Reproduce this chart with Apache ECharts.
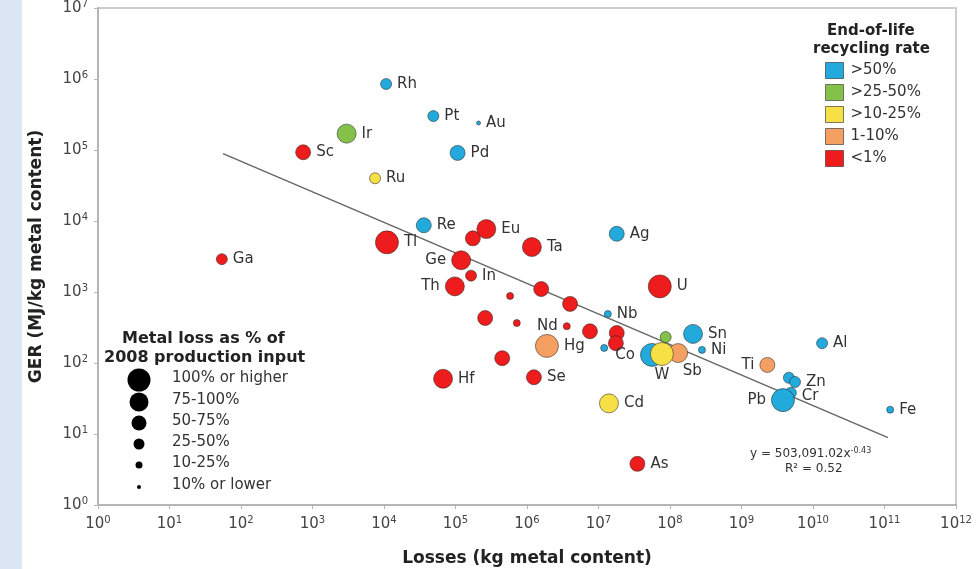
<!DOCTYPE html>
<html>
<head>
<meta charset="utf-8">
<script src="https://cdn.jsdelivr.net/npm/echarts@6/dist/echarts.min.js"></script>
<style>
  html, body { margin: 0; padding: 0; background: #fff; }
  #chart { width: 976px; height: 569px; }
</style>
</head>
<body>
<div id="chart"></div>
<script>
// element labels ('' = unlabelled point)
var names = ['Rh', 'Pt', 'Au', 'Ir', 'Sc', 'Pd', 'Ru', 'Re', 'Tl', 'Eu', '', 'Ta', 'Ag', 'Ga', 'Ge', 'In', 'Th', 'U',
  '', '', '', 'Nb', '', '', 'Nd', '', '', '', 'Hg', '', '', 'Sn', 'Ni', 'Co', 'W', 'Sb', '', 'Ti', 'Al', 'Hf', 'Se',
  '', 'Zn', 'Cr', 'Pb', 'Fe', 'Cd', 'As'];
// losses (kg metal content)
var losses = [1.07e4, 4.9e4, 2.1e5, 3.0e3, 740, 1.07e5, 7.5e3, 3.6e4, 1.1e4, 2.7e5, 1.75e5, 1.17e6, 1.8e7, 54, 1.2e5, 1.65e5, 9.8e4, 7.2e7,
  1.58e6, 5.8e5, 4.0e6, 1.35e7, 2.6e5, 7.2e5, 3.6e6, 7.6e6, 1.8e7, 1.75e7, 1.9e6, 1.2e7, 8.7e7, 2.1e8, 2.8e8, 5.6e7, 7.7e7, 1.3e8, 4.5e5, 2.3e9, 1.34e10, 6.7e4, 1.25e6,
  4.6e9, 5.6e9, 4.9e9, 3.8e9, 1.2e11, 1.4e7, 3.5e7];
// GER (MJ/kg metal content)
var ger = [8.5e5, 3.0e5, 2.4e5, 1.7e5, 9.3e4, 9.1e4, 4.0e4, 8.7e3, 5.0e3, 7.7e3, 5.7e3, 4.3e3, 6.6e3, 2.9e3, 2.8e3, 1.7e3, 1.2e3, 1.2e3,
  1.1e3, 880, 680, 490, 430, 365, 330, 280, 265, 190, 174, 163, 232, 257, 153, 130, 134, 138, 117, 94, 190, 60, 63,
  62, 54, 38, 30, 22, 27, 3.8];
// end-of-life recycling class: 0 >50%, 1 >25-50%, 2 >10-25%, 3 1-10%, 4 <1%
var recycling = [0, 0, 0, 1, 4, 0, 2, 0, 4, 4, 4, 4, 0, 4, 4, 4, 4, 4,
  4, 4, 4, 0, 4, 4, 4, 4, 4, 4, 3, 0, 1, 0, 0, 0, 2, 3, 4, 3, 0, 4, 4,
  0, 0, 0, 0, 0, 2, 4];
// metal loss class: 0 >=100%, 1 75-100%, 2 50-75%, 3 25-50%, 4 10-25%, 5 <=10%
var lossClass = [3, 3, 5, 1, 2, 2, 3, 2, 0, 1, 2, 1, 2, 3, 1, 3, 1, 0,
  2, 4, 2, 4, 2, 4, 4, 2, 2, 2, 0, 4, 3, 1, 4, 0, 0, 1, 2, 2, 3, 1, 2,
  3, 3, 3, 0, 4, 1, 2];

var recyclingNames = ['>50%', '>25-50%', '>10-25%', '1-10%', '<1%'];
var lossNames = ['100% or higher', '75-100%', '50-75%', '25-50%', '10-25%', '10% or lower'];

// regression line end points
var trendX = [56, 1.12e11];
var trendY = [8.9e4, 8.9];

var colors = ['#22aadc', '#84c148', '#f6e045', '#f5a062', '#ee1c1c'];
var sizes = [23, 19, 15, 11, 7, 4];
var font = '"DejaVu Sans", Verdana, sans-serif';

var labelPlace = {
  Ge: { position: 'left' }, Th: { position: 'left' }, Nd: { position: 'left' },
  Co: { position: 'left' }, Ti: { position: 'left' }, Pb: { position: 'left' },
  W: { position: 'bottom', distance: 2 }, Sb: { position: 'bottom', offset: [14, -4] },
  Cr: { position: 'right', offset: [0, 3] }
};

var series = [];
var zOrder = [3, 4, 6, 5, 2];
recyclingNames.forEach(function (rn, k) {
  var data = [];
  for (var i = 0; i < names.length; i++) {
    if (recycling[i] !== k) continue;
    var item = { name: names[i], value: [losses[i], ger[i], lossClass[i]] };
    item.label = Object.assign({ show: names[i] !== '' }, labelPlace[names[i]] || {});
    data.push(item);
  }
  series.push({
    name: rn,
    type: 'scatter',
    z: zOrder[k],
    symbolSize: function (v) { return sizes[v[2]]; },
    itemStyle: { color: colors[k], borderColor: 'rgba(40,40,40,0.55)', borderWidth: 1, opacity: 1 },
    label: { position: 'right', distance: 5, formatter: '{b}', color: '#333', fontSize: 15, fontFamily: font },
    data: data
  });
});

series.push({
  name: 'trend',
  type: 'line',
  z: 1,
  symbol: 'none',
  silent: true,
  lineStyle: { color: '#666', width: 1.5 },
  data: [[trendX[0], trendY[0]], [trendX[1], trendY[1]]]
});

function powLabel(v) {
  var e = Math.round(Math.log10(v));
  return '{b|10}{s|' + e + '}';
}
var rich = {
  b: { fontSize: 15, color: '#444', fontFamily: font },
  s: { fontSize: 10, color: '#444', fontFamily: font, padding: [0, 0, 8, 0] }
};

// size legend graphic
var sizeLegend = [
  { type: 'text', left: 122, top: 331, style: { text: 'Metal loss as % of', font: 'bold 16px ' + font, fill: '#222' } },
  { type: 'text', left: 104, top: 350, style: { text: '2008 production input', font: 'bold 16px ' + font, fill: '#222' } }
];
var rowsY = [380, 402, 423, 444, 465, 487];
lossNames.forEach(function (ln, i) {
  sizeLegend.push({ type: 'circle', shape: { cx: 139, cy: rowsY[i], r: sizes[i] / 2 }, style: { fill: '#000' } });
  sizeLegend.push({ type: 'text', left: 172, top: rowsY[i] - 9, style: { text: ln, font: '15px ' + font, fill: '#333' } });
});

var myChart = echarts.init(document.getElementById('chart'), null, { renderer: 'canvas' });

myChart.setOption({
  backgroundColor: '#fff',
  animation: false,
  grid: { left: 98, right: 20, top: 8, bottom: 64, outerBoundsMode: 'none', show: true, borderColor: '#bdbdbd', borderWidth: 1.5 },
  legend: {
    data: recyclingNames,
    orient: 'vertical',
    left: 825,
    top: 62,
    padding: 0,
    icon: 'rect',
    itemWidth: 18,
    itemHeight: 16,
    itemGap: 5,
    itemStyle: { borderColor: 'rgba(40,40,40,0.6)', borderWidth: 1 },
    textStyle: { fontSize: 15, color: '#333', fontFamily: font, padding: [0, 0, 0, 2] },
    selectedMode: false
  },
  xAxis: {
    type: 'log',
    logBase: 10,
    min: 1,
    max: 1e12,
    interval: 1,
    name: 'Losses (kg metal content)',
    nameLocation: 'middle',
    nameGap: 45,
    nameTextStyle: { fontSize: 17, fontWeight: 'bold', color: '#222', fontFamily: font },
    axisLine: { lineStyle: { color: '#b5b5b5', width: 2 } },
    axisTick: { show: true, length: 4, lineStyle: { color: '#b5b5b5' } },
    minorTick: { show: false },
    splitLine: { show: false },
    axisLabel: { formatter: powLabel, rich: rich, margin: 10, hideOverlap: false }
  },
  yAxis: {
    type: 'log',
    logBase: 10,
    min: 1,
    max: 1e7,
    interval: 1,
    name: 'GER (MJ/kg metal content)',
    nameLocation: 'middle',
    nameGap: 53,
    nameTextStyle: { fontSize: 17, fontWeight: 'bold', color: '#222', fontFamily: font },
    axisLine: { lineStyle: { color: '#b5b5b5', width: 2 } },
    axisTick: { show: true, length: 4, lineStyle: { color: '#b5b5b5' } },
    splitLine: { show: false },
    axisLabel: { formatter: powLabel, rich: rich, margin: 10 }
  },
  graphic: [
    { type: 'rect', left: 0, top: 0, shape: { width: 22, height: 569 }, style: { fill: '#dce5f4' }, z: 100 },
    { type: 'text', left: 827, top: 24, style: { text: 'End-of-life', font: 'bold 15px ' + font, fill: '#222' } },
    { type: 'text', left: 813, top: 42, style: { text: 'recycling rate', font: 'bold 15px ' + font, fill: '#222' } },
    { type: 'text', left: 750, top: 447, style: { text: '{a|y = 503,091.02x}{s|-0.43}', rich: { a: { font: '12px ' + font, fill: '#333' }, s: { font: '8px ' + font, fill: '#333', padding: [0, 0, 6, 0] } } } },
    { type: 'text', left: 785, top: 463, style: { text: 'R² = 0.52', font: '12px ' + font, fill: '#333' } }
  ].concat(sizeLegend),
  series: series
});

window.addEventListener('resize', myChart.resize);
</script>
</body>
</html>
